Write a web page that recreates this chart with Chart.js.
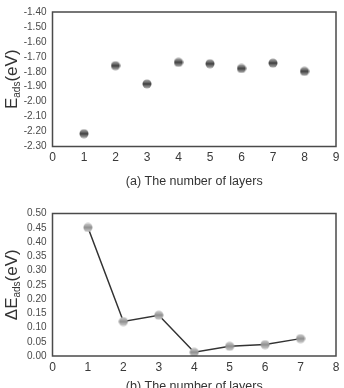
<!DOCTYPE html>
<html><head><meta charset="utf-8">
<script src="https://cdn.jsdelivr.net/npm/chart.js@4/dist/chart.umd.min.js"></script>
<style>
html,body{margin:0;padding:0;background:#fff;overflow:hidden;width:344px;height:388px;}
#wa{position:absolute;left:0;top:0;width:344px;height:196px;}
#wb{position:absolute;left:0;top:190px;width:344px;height:215px;}
</style></head><body>
<div id="wa"><canvas id="ca"></canvas></div>
<div id="wb"><canvas id="cb"></canvas></div>
<script>
// ---- data ----
const layersA = [1, 2, 3, 4, 5, 6, 7, 8];
const eAds = [-2.214, -1.759, -1.881, -1.737, -1.746, -1.778, -1.742, -1.797];
const layersB = [1, 2, 3, 4, 5, 6, 7];
const dEAds = [0.451, 0.121, 0.143, 0.013, 0.034, 0.040, 0.061];
const xTicksA = [0, 1, 2, 3, 4, 5, 6, 7, 8, 9];
const yTicksA = [-2.30, -2.20, -2.10, -2.00, -1.90, -1.80, -1.70, -1.60, -1.50, -1.40];
const xTicksB = [0, 1, 2, 3, 4, 5, 6, 7, 8];
const yTicksB = [0.00, 0.05, 0.10, 0.15, 0.20, 0.25, 0.30, 0.35, 0.40, 0.45, 0.50];
const xTitleA = '(a) The number of layers';
const xTitleB = '(b) The number of layers';

const FAM = '"Liberation Sans", Arial, sans-serif';

function sphere(dark, mid, light) {
  const c = document.createElement('canvas');
  c.width = 10; c.height = 10;
  const g = c.getContext('2d');
  const gr = g.createLinearGradient(0, 0, 0, 10);
  gr.addColorStop(0, light); gr.addColorStop(0.35, mid);
  gr.addColorStop(0.5, dark); gr.addColorStop(0.65, mid); gr.addColorStop(1, light);
  g.fillStyle = gr;
  g.beginPath(); g.arc(5, 5, 4.5, 0, Math.PI * 2); g.fill();
  return c;
}

function boxAndTitle(main, sub, rest) {
  return {
    id: 'boxTitle',
    afterDatasetsDraw(chart) {
      const {ctx, chartArea: a} = chart;
      ctx.save();
      ctx.strokeStyle = '#4a4a4a'; ctx.lineWidth = 1.5;
      ctx.strokeRect(a.left, a.top, a.right - a.left, a.bottom - a.top);
      ctx.restore();
    },
    afterDraw(chart) {
      const {ctx, chartArea: a} = chart;
      ctx.save();
      ctx.fillStyle = '#333';
      const cy = (a.top + a.bottom) / 2;
      ctx.translate(12, cy);
      ctx.rotate(-Math.PI / 2);
      ctx.textBaseline = 'middle';
      const fBig = '17px ' + FAM;
      const fSmall = '10px ' + FAM;
      ctx.font = fBig; const w1 = ctx.measureText(main).width;
      ctx.font = fSmall; const w2 = ctx.measureText(sub).width;
      ctx.font = fBig; const w3 = ctx.measureText(rest).width;
      let x = -(w1 + w2 + w3) / 2;
      ctx.font = fBig; ctx.fillText(main, x, 0); x += w1;
      ctx.font = fSmall; ctx.fillText(sub, x, 5); x += w2;
      ctx.font = fBig; ctx.fillText(rest, x, 0);
      ctx.restore();
    }
  };
}

function makeChart(id, xs, ys, xTicks, yTicks, xTitle, showLine, point, topPad, xAxisH, botPad, main) {
  const data = xs.map((x, i) => ({x: x, y: ys[i]}));
  return new Chart(document.getElementById(id), {
    type: 'scatter',
    data: {datasets: [{
      data: data, showLine: showLine, borderColor: '#333', borderWidth: 1.5,
      pointStyle: point, pointRadius: 5, pointHoverRadius: 5, tension: 0
    }]},
    options: {
      responsive: true, maintainAspectRatio: false, animation: false,
      layout: {padding: {left: 0, right: 8, top: topPad, bottom: botPad}},
      plugins: {legend: {display: false}, tooltip: {enabled: false}},
      scales: {
        x: {
          type: 'linear', min: xTicks[0], max: xTicks[xTicks.length - 1],
          grid: {display: false, drawTicks: false}, border: {display: false},
          afterBuildTicks: s => { s.ticks = xTicks.map(v => ({value: v})); },
          afterFit: s => { s.height = xAxisH; },
          ticks: {color: '#3a3a3a', padding: 4, font: {size: 12, family: FAM},
                  maxRotation: 0, autoSkip: false, callback: v => String(v)},
          title: {display: true, text: xTitle, color: '#333', padding: {top: 8, bottom: 4},
                  font: {size: 12.5, family: FAM}}
        },
        y: {
          type: 'linear', min: yTicks[0], max: yTicks[yTicks.length - 1],
          grid: {display: false, drawTicks: false}, border: {display: false},
          afterBuildTicks: s => { s.ticks = yTicks.map(v => ({value: v})); },
          afterFit: s => { s.width = 52.5; },
          ticks: {color: '#4a4a4a', padding: 6, font: {size: 10, family: FAM},
                  autoSkip: false, callback: v => Number(v).toFixed(2)}
        }
      }
    },
    plugins: [boxAndTitle(main[0], main[1], main[2])]
  });
}

makeChart('ca', layersA, eAds, xTicksA, yTicksA, xTitleA, false,
  sphere('#3a3a3a', '#6a6a6a', '#b8b8b8'), 5.5, 47, 2.5, ['E', 'ads', '(eV)']);
makeChart('cb', layersB, dEAds, xTicksB, yTicksB, xTitleB, true,
  sphere('#8a8a8a', '#a8a8a8', '#d0d0d0'), 23.5, 42, 7, ['\u0394E', 'ads', '(eV)']);
</script>
</body></html>
